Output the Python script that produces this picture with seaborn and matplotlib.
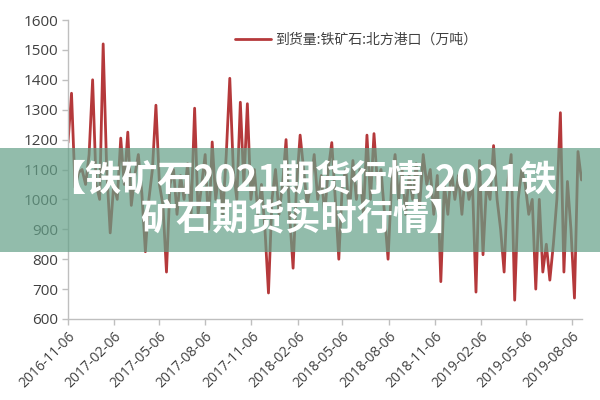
import numpy as np
import pandas as pd
import matplotlib
matplotlib.use("Agg")
import matplotlib.pyplot as plt
import matplotlib.dates as mdates
import seaborn as sns

# Weekly arrivals of iron ore at northern ports (10k tonnes)
start_date = "2016-11-06"
values = [
    1190, 1355, 1040, 1090, 1100, 1050, 1150, 1400, 1050, 1000,
    1520, 1100, 888, 1050, 1000, 1205, 1050, 1225, 980, 1080,
    1150, 1020, 825, 1000, 1100, 1315, 1050, 980, 757, 1050,
    1100, 950, 1080, 1000, 1120, 950, 1305, 950, 1050, 1150,
    900, 1192, 1000, 1100, 950, 1150, 1405, 1100, 1000, 1325,
    1050, 1320, 1000, 1100, 950, 1050, 900, 687, 1000, 1100,
    950, 1050, 1200, 950, 770, 1050, 1215, 1100, 980, 1050,
    1150, 1000, 1080, 950, 1100, 1190, 1000, 800, 1050, 1100,
    950, 1130, 1000, 1100, 950, 1215, 1000, 1220, 1050, 1100,
    950, 800, 1050, 1150, 1000, 1100, 950, 1080, 1000, 1120,
    980, 1150, 1050, 1100, 950, 1080, 725, 1050, 950, 1100,
    1000, 1080, 950, 1100, 1000, 1050, 690, 1130, 815, 1050,
    1000, 1180, 1000, 900, 757, 1050, 1150, 663, 1000, 1100,
    1050, 950, 1000, 700, 1000, 757, 850, 730, 850, 1000,
    1290, 757, 1060, 900, 670, 1160, 1065,
]
series_label = "到货量:铁矿石:北方港口（万吨）"
tick_labels = ["2016-11-06", "2017-02-06", "2017-05-06", "2017-08-06",
               "2017-11-06", "2018-02-06", "2018-05-06", "2018-08-06",
               "2018-11-06", "2019-02-06", "2019-05-06", "2019-08-06"]
y_ticks = [600, 700, 800, 900, 1000, 1100, 1200, 1300, 1400, 1500, 1600]
banner_text = "【铁矿石2021期货行情,2021铁\n矿石期货实时行情】"

dates = pd.date_range(start_date, periods=len(values), freq="7D")
df = pd.DataFrame({"date": dates, "value": values})

sns.set_theme(style="white")
plt.rcParams["font.family"] = ["Noto Sans CJK SC", "DejaVu Sans"]

fig = plt.figure(figsize=(6, 4), dpi=100)
ax = fig.add_axes([68 / 600, 1 - 319 / 400, (582 - 68) / 600, (319 - 20) / 400])

sns.lineplot(data=df, x="date", y="value", ax=ax, color="#b5393b",
             linewidth=2.0, label=series_label)

ax.set_ylim(600, 1600)
ax.set_yticks(y_ticks)
ax.set_yticklabels([str(v) for v in y_ticks], fontsize=11, color="#404040",
                   family=["Open Sans", "DejaVu Sans"])
tick_dates = pd.to_datetime(tick_labels)
ax.set_xlim(pd.Timestamp(start_date), pd.Timestamp("2019-08-26"))
ax.set_xticks(tick_dates)
ax.set_xticklabels(tick_labels, rotation=45, ha="right", rotation_mode="anchor",
                   fontsize=10, color="#404040", family=["Open Sans", "DejaVu Sans"])
ax.set_xlabel("")
ax.set_ylabel("")
for s in ["top", "right"]:
    ax.spines[s].set_visible(False)
for s in ["left", "bottom"]:
    ax.spines[s].set_color("#bfbfbf")
    ax.spines[s].set_linewidth(1.0)
ax.tick_params(axis="both", which="both", length=4, width=1, color="#bfbfbf",
               direction="out", left=True, bottom=True, pad=3)

leg = ax.legend(loc="upper left", bbox_to_anchor=(0.3, 1.0), frameon=False,
                fontsize=10, handlelength=2.6, handletextpad=0.3)
for t in leg.get_texts():
    t.set_color("#404040")

# Banner overlay
fig.patches.append(plt.Rectangle((0, 1 - 252 / 400), 1, (252 - 148) / 400,
                                 transform=fig.transFigure, facecolor="#64a088",
                                 alpha=0.7, edgecolor="none", zorder=5))
fig.text(0.505, 1 - 199 / 400, banner_text, ha="center", va="center",
         fontsize=26, fontweight="black", color="white", linespacing=1.05,
         zorder=6, family=["Noto Sans CJK SC", "DejaVu Sans"])

fig.savefig("out.png", dpi=100)
